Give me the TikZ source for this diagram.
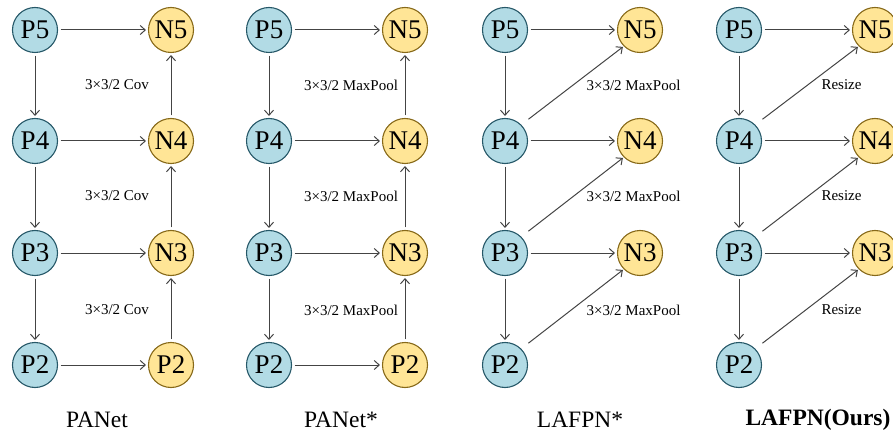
\documentclass[tikz,border=0pt]{standalone}
\usepackage{fontspec}
\setmainfont{Liberation Serif}
\usetikzlibrary{arrows.meta}

\definecolor{pfill}{RGB}{178,219,229}
\definecolor{pline}{RGB}{38,88,104}
\definecolor{nfill}{RGB}{255,229,150}
\definecolor{nline}{RGB}{135,105,25}
\definecolor{linkgray}{RGB}{68,68,68}

\tikzset{
  pnode/.style={circle, draw=pline, fill=pfill, line width=1.1pt,
    minimum size=45pt, inner sep=0pt, font=\fontsize{27}{27}\selectfont},
  nnode/.style={pnode, draw=nline, fill=nfill},
  link/.style={draw=linkgray, line width=1pt,
    -{Straight Barb[length=5pt,width=9pt]},
    shorten <=2.5pt, shorten >=2pt},
  oplabel/.style={font=\fontsize{15}{15}\selectfont},
  caption/.style={font=\fontsize{23.5}{23.5}\selectfont}
}

\begin{document}
\begin{tikzpicture}[x=1pt, y=-1pt]
  \useasboundingbox (0,0) rectangle (893,438);

  % Backbone levels
  \foreach \k/\ox in {a/35,b/269,c/505,d/739} {
    \foreach \i/\y in {5/30,4/141,3/253,2/365} {
      \node[pnode] (p\i\k) at (\ox,\y) {P\i};
    }
  }

  % Output levels
  \foreach \k/\ox in {a/171,b/405,c/640,d/875} {
    \foreach \i/\y in {5/30,4/141,3/253} {
      \node[nnode] (n\i\k) at (\ox,\y) {N\i};
    }
  }
  \node[nnode] (n2a) at (171,365) {P2};
  \node[nnode] (n2b) at (405,365) {P2};

  % Top-down path
  \foreach \k in {a,b,c,d} {
    \draw[link] (p5\k) -- (p4\k);
    \draw[link] (p4\k) -- (p3\k);
    \draw[link] (p3\k) -- (p2\k);
  }

  % Lateral links
  \foreach \k in {a,b} {
    \foreach \i in {5,4,3,2} {
      \draw[link] (p\i\k) -- (n\i\k);
    }
  }
  \foreach \k in {c,d} {
    \foreach \i in {5,4,3} {
      \draw[link] (p\i\k) -- (n\i\k);
    }
  }

  % Bottom-up path
  \foreach \k in {a,b} {
    \draw[link] (n2\k) -- (n3\k);
    \draw[link] (n3\k) -- (n4\k);
    \draw[link] (n4\k) -- (n5\k);
  }

  % Skip links
  \foreach \k in {c,d} {
    \draw[link, shorten <=9pt, shorten >=1pt] (p4\k.north east) -- (n5\k.south west);
    \draw[link, shorten <=9pt, shorten >=1pt] (p3\k.north east) -- (n4\k.south west);
    \draw[link, shorten <=9pt, shorten >=1pt] (p2\k.north east) -- (n3\k.south west);
  }

  % Operation labels
  \foreach \y [count=\j] in {85,196,310} {
    \node[oplabel] (opa\j) at (117,\y) {3×3/2 Cov};
    \node[oplabel] (opb\j) at (351,\y) {3×3/2 MaxPool};
    \node[oplabel, anchor=west] (opc\j) at (583,\y) {3×3/2 MaxPool};
    \node[oplabel, anchor=west] (opd\j) at (818,\y) {Resize};
  }

  % Captions
  \node[caption] (capa) at (97,420) {PANet};
  \node[caption] (capb) at (341,420) {PANet*};
  \node[caption] (capc) at (580,420) {LAFPN*};
  \node[caption] (capd) at (818,420) {\textbf{LAFPN(Ours)}};
\end{tikzpicture}
\end{document}
